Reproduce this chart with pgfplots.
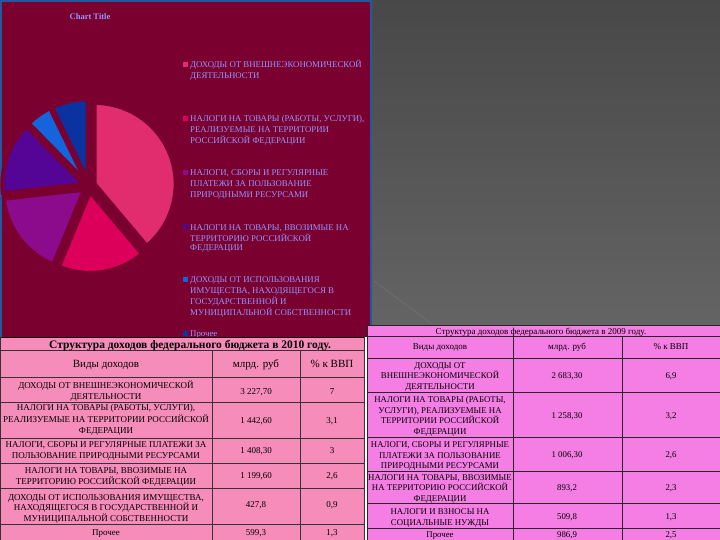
\documentclass[border=0pt]{standalone}
\usepackage{pgfplots}
\pgfplotsset{compat=1.18}
\usepackage{pgfplotstable}
\usepackage{fontspec}
\setmainfont{Liberation Serif}
\definecolor{bgmaroon}{RGB}{122,0,48}
\definecolor{frameblue}{RGB}{30,90,160}
\definecolor{grayA}{RGB}{72,72,72}
\definecolor{grayB}{RGB}{100,100,100}
\definecolor{grayL}{RGB}{118,118,118}
\definecolor{tabpink}{RGB}{246,140,186}
\definecolor{tabmag}{RGB}{245,126,228}
\definecolor{legtext}{RGB}{150,150,255}
\definecolor{pie0}{RGB}{225,45,110}
\definecolor{pie1}{RGB}{220,0,90}
\definecolor{pie2}{RGB}{140,10,140}
\definecolor{pie3}{RGB}{85,5,150}
\definecolor{pie4}{RGB}{20,100,220}
\definecolor{pie5}{RGB}{10,50,160}

% 2010 revenues, bn rub
\pgfplotstableread{
v
3227.7
1442.6
1408.3
1199.6
427.8
599.3
}\piedata

\newcommand\tabl[4]{\node[anchor=base,inner sep=0pt,font=#1] at (#2,#3) {#4};}
\newcommand\legl[3]{\node[anchor=base west,inner sep=0pt,font=\fontsize{8.8}{10}\selectfont,text=legtext] at (#1,#2) {#3};}

\begin{document}
\begin{tikzpicture}[x=1pt,y=-1pt]
\useasboundingbox (0,0) rectangle (720,540);
% panels
\fill[bgmaroon] (0,0) rectangle (372,337);
\shade[top color=grayA,bottom color=grayB] (372,0) rectangle (720,325);
\draw[grayL,line width=0.4pt] (374,281) -- (432,324);
\draw[frameblue,line width=2pt] (1,337) -- (1,1) -- (371,1) -- (371,325);
\fill[tabpink] (0,337) rectangle (365,540);
\fill[tabmag] (367,325) rectangle (720,540);

% pie
\coordinate (pc) at (89,186);
\pgfmathsetmacro\total{0}
\pgfplotsforeachungrouped \i in {0,...,5}{%
  \pgfplotstablegetelem{\i}{v}\of\piedata
  \pgfmathsetmacro\total{\total+\pgfplotsretval}%
}
\begin{axis}[at={(pc)},anchor=center,hide axis,x=1pt,y=1pt,
  xmin=-100,xmax=100,ymin=-100,ymax=100,clip=false]
\pgfmathsetmacro\astart{90}
\pgfplotsforeachungrouped \i in {0,...,5}{%
  \pgfplotstablegetelem{\i}{v}\of\piedata
  \pgfmathsetmacro\fr{\pgfplotsretval/\total}%
  \pgfmathsetmacro\sweep{360*\fr}%
  \pgfmathsetmacro\aend{\astart-\sweep}%
  \pgfmathsetmacro\amid{(\astart+\aend)/2}%
  \pgfmathsetmacro\cx{6*cos(\amid)}%
  \pgfmathsetmacro\cy{6*sin(\amid)}%
  \pgfmathsetmacro\sx{\cx+81*cos(\astart)}%
  \pgfmathsetmacro\sy{\cy+81*sin(\astart)}%
  \edef\cmd{\noexpand\filldraw[fill=pie\i,draw=bgmaroon,line width=4pt,line join=miter] (axis cs:\cx,\cy) -- (axis cs:\sx,\sy) arc[start angle=\astart,end angle=\aend,radius=81pt] -- cycle;}%
  \cmd
  \global\let\astart\aend
}
\end{axis}

% chart title
\node[font=\fontsize{8.5}{10}\selectfont\bfseries,text=legtext] at (90,17) {Chart Title};

% legend
\fill[pie0] (182.5,62.5) rectangle +(5,5);
\legl{190}{68}{ДОХОДЫ ОТ ВНЕШНЕЭКОНОМИЧЕСКОЙ}
\legl{190}{79}{ДЕЯТЕЛЬНОСТИ}
\fill[pie1] (182.5,116.5) rectangle +(5,5);
\legl{190}{122}{НАЛОГИ НА ТОВАРЫ (РАБОТЫ, УСЛУГИ),}
\legl{190}{133}{РЕАЛИЗУЕМЫЕ НА ТЕРРИТОРИИ}
\legl{190}{144}{РОССИЙСКОЙ ФЕДЕРАЦИИ}
\fill[pie2] (182.5,170.5) rectangle +(5,5);
\legl{190}{176}{НАЛОГИ, СБОРЫ И РЕГУЛЯРНЫЕ}
\legl{190}{187}{ПЛАТЕЖИ ЗА ПОЛЬЗОВАНИЕ}
\legl{190}{198}{ПРИРОДНЫМИ РЕСУРСАМИ}
\fill[pie3] (182.5,224.5) rectangle +(5,5);
\legl{190}{230}{НАЛОГИ НА ТОВАРЫ, ВВОЗИМЫЕ НА}
\legl{190}{241}{ТЕРРИТОРИЮ РОССИЙСКОЙ}
\legl{190}{251}{ФЕДЕРАЦИИ}
\fill[pie4] (182.5,276.5) rectangle +(5,5);
\legl{190}{282}{ДОХОДЫ ОТ ИСПОЛЬЗОВАНИЯ}
\legl{190}{293}{ИМУЩЕСТВА, НАХОДЯЩЕГОСЯ В}
\legl{190}{304}{ГОСУДАРСТВЕННОЙ И}
\legl{190}{315}{МУНИЦИПАЛЬНОЙ СОБСТВЕННОСТИ}
\fill[pie5] (182.5,330.5) rectangle +(5,5);
\legl{190}{336}{Прочее}

% table 2010
\draw[black,line width=0.8pt] (0,337) -- (365,337);
\foreach \yy in {350,377,402,438,463,488,524}{\draw[black!80,line width=0.7pt] (0,\yy) -- (364,\yy);}
\draw[black!80,line width=0.7pt] (212,350) -- (212,540) (300,350) -- (300,540) (364,337) -- (364,540) (0.5,337) -- (0.5,540);
\def\ft{\fontsize{9}{10}\selectfont}
\def\fth{\fontsize{11}{12}\selectfont}
\tabl{\fontsize{11.5}{12}\selectfont\bfseries}{190}{348.5}{Структура доходов федерального бюджета в 2010 году.}
\tabl{\fth}{106}{367.5}{Виды доходов}
\tabl{\fth}{256}{367.5}{млрд. руб}
\tabl{\fth}{332}{367.5}{\% к ВВП}
\tabl{\ft}{106}{388}{ДОХОДЫ ОТ ВНЕШНЕЭКОНОМИЧЕСКОЙ}
\tabl{\ft}{106}{399}{ДЕЯТЕЛЬНОСТИ}
\tabl{\ft}{256}{394}{3 227,70}
\tabl{\ft}{332}{394}{7}
\tabl{\ft}{106}{410}{НАЛОГИ НА ТОВАРЫ (РАБОТЫ, УСЛУГИ),}
\tabl{\ft}{106}{422}{РЕАЛИЗУЕМЫЕ НА ТЕРРИТОРИИ РОССИЙСКОЙ}
\tabl{\ft}{106}{433}{ФЕДЕРАЦИИ}
\tabl{\ft}{256}{423}{1 442,60}
\tabl{\ft}{332}{423}{3,1}
\tabl{\ft}{106}{447}{НАЛОГИ, СБОРЫ И РЕГУЛЯРНЫЕ ПЛАТЕЖИ ЗА}
\tabl{\ft}{106}{458}{ПОЛЬЗОВАНИЕ ПРИРОДНЫМИ РЕСУРСАМИ}
\tabl{\ft}{256}{453}{1 408,30}
\tabl{\ft}{332}{453}{3}
\tabl{\ft}{106}{473}{НАЛОГИ НА ТОВАРЫ, ВВОЗИМЫЕ НА}
\tabl{\ft}{106}{484}{ТЕРРИТОРИЮ РОССИЙСКОЙ ФЕДЕРАЦИИ}
\tabl{\ft}{256}{478}{1 199,60}
\tabl{\ft}{332}{478}{2,6}
\tabl{\ft}{106}{500}{ДОХОДЫ ОТ ИСПОЛЬЗОВАНИЯ ИМУЩЕСТВА,}
\tabl{\ft}{106}{510}{НАХОДЯЩЕГОСЯ В ГОСУДАРСТВЕННОЙ И}
\tabl{\ft}{106}{521}{МУНИЦИПАЛЬНОЙ СОБСТВЕННОСТИ}
\tabl{\ft}{256}{507}{427,8}
\tabl{\ft}{332}{507}{0,9}
\tabl{\ft}{106}{535}{Прочее}
\tabl{\ft}{256}{535}{599,3}
\tabl{\ft}{332}{535}{1,3}

% table 2009
\foreach \yy in {325,336,358,392,437,471,503,528}{\draw[black!85,line width=0.7pt] (367,\yy) -- (720,\yy);}
\draw[black!85,line width=0.7pt] (513,336) -- (513,540) (622,336) -- (622,540) (367,325) -- (367,540);
\def\fs{\fontsize{8.8}{10}\selectfont}
\def\fh{\fontsize{9}{10}\selectfont}
\tabl{\fh}{541}{334}{Структура доходов федерального бюджета в 2009 году.}
\tabl{\fh}{440}{349}{Виды доходов}
\tabl{\fh}{567}{349}{млрд. руб}
\tabl{\fh}{671}{349}{\% к ВВП}
\tabl{\fs}{440}{368}{ДОХОДЫ ОТ}
\tabl{\fs}{440}{378}{ВНЕШНЕЭКОНОМИЧЕСКОЙ}
\tabl{\fs}{440}{389}{ДЕЯТЕЛЬНОСТИ}
\tabl{\fs}{567}{378}{2 683,30}
\tabl{\fs}{671}{378}{6,9}
\tabl{\fs}{440}{402}{НАЛОГИ НА ТОВАРЫ (РАБОТЫ,}
\tabl{\fs}{440}{413}{УСЛУГИ), РЕАЛИЗУЕМЫЕ НА}
\tabl{\fs}{440}{423}{ТЕРРИТОРИИ РОССИЙСКОЙ}
\tabl{\fs}{440}{434}{ФЕДЕРАЦИИ}
\tabl{\fs}{567}{418}{1 258,30}
\tabl{\fs}{671}{418}{3,2}
\tabl{\fs}{440}{447}{НАЛОГИ, СБОРЫ И РЕГУЛЯРНЫЕ}
\tabl{\fs}{440}{458}{ПЛАТЕЖИ ЗА ПОЛЬЗОВАНИЕ}
\tabl{\fs}{440}{468}{ПРИРОДНЫМИ РЕСУРСАМИ}
\tabl{\fs}{567}{457}{1 006,30}
\tabl{\fs}{671}{457}{2,6}
\tabl{\fs}{440}{480}{НАЛОГИ НА ТОВАРЫ, ВВОЗИМЫЕ}
\tabl{\fs}{440}{490}{НА ТЕРРИТОРИЮ РОССИЙСКОЙ}
\tabl{\fs}{440}{501}{ФЕДЕРАЦИИ}
\tabl{\fs}{567}{490}{893,2}
\tabl{\fs}{671}{490}{2,3}
\tabl{\fs}{440}{514}{НАЛОГИ И ВЗНОСЫ НА}
\tabl{\fs}{440}{525}{СОЦИАЛЬНЫЕ НУЖДЫ}
\tabl{\fs}{567}{519}{509,8}
\tabl{\fs}{671}{519}{1,3}
\tabl{\fs}{440}{537}{Прочее}
\tabl{\fs}{567}{537}{986,9}
\tabl{\fs}{671}{537}{2,5}
\end{tikzpicture}
\end{document}
